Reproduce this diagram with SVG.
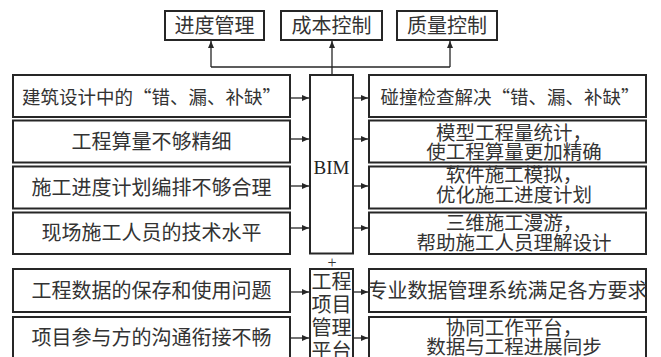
<svg xmlns="http://www.w3.org/2000/svg" width="661" height="357" viewBox="0 0 661 357">
<style>
.box{fill:#fff;stroke:#262626;stroke-width:2}
.t{font-family:"Noto Sans CJK SC","Noto Sans",sans-serif;font-size:20px;fill:#333;text-anchor:middle}
.s{font-size:18.5px}
.m{font-size:19.5px}
.en{font-family:"Liberation Serif",serif;font-size:19px;fill:#222;text-anchor:middle}
.c{stroke:#262626;stroke-width:1.3;fill:none}
</style>
<defs>
<marker id="ah" markerUnits="userSpaceOnUse" markerWidth="8" markerHeight="6" refX="7" refY="3" orient="auto">
<path d="M0,0 L7,3 L0,6 z" fill="#262626"/>
</marker>
</defs>
<rect width="661" height="357" fill="#fff"/>

<g id="top1"><rect class="box" x="165" y="11" width="99" height="29"/><text class="t" x="214.5" y="33">进度管理</text></g>
<g id="top2"><rect class="box" x="281" y="11" width="101" height="29"/><text class="t" x="331.5" y="33">成本控制</text></g>
<g id="top3"><rect class="box" x="397" y="11" width="100" height="29"/><text class="t" x="447" y="33">质量控制</text></g>

<g id="L1"><rect class="box" x="13" y="75" width="277" height="42"/><text class="t s" x="151.5" y="104">建筑设计中的“错、漏、补缺”</text></g>
<g id="L2"><rect class="box" x="13" y="120.5" width="277" height="42"/><text class="t" x="151.5" y="148.5">工程算量不够精细</text></g>
<g id="L3"><rect class="box" x="13" y="166.5" width="277" height="42"/><text class="t" x="151.5" y="194.5">施工进度计划编排不够合理</text></g>
<g id="L4"><rect class="box" x="13" y="212.5" width="277" height="41.5"/><text class="t" x="151.5" y="240">现场施工人员的技术水平</text></g>
<g id="L5"><rect class="box" x="13" y="269" width="277" height="43"/><text class="t" x="151.5" y="297.5">工程数据的保存和使用问题</text></g>
<g id="L6"><rect class="box" x="13" y="317" width="277" height="50"/><text class="t" x="151.5" y="345">项目参与方的沟通衔接不畅</text></g>

<g id="BIM"><rect class="box" x="310" y="75" width="43" height="178.5"/><text class="en" x="331.5" y="174">BIM</text></g>
<text x="332" y="268" font-family="Liberation Serif, serif" font-size="16" fill="#333" text-anchor="middle">+</text>
<g id="platform"><rect class="box" x="310" y="269" width="43" height="98"/>
<text class="t" x="331.5" y="289">工程</text>
<text class="t" x="331.5" y="312">项目</text>
<text class="t" x="331.5" y="335">管理</text>
<text class="t" x="331.5" y="358">平台</text></g>

<g id="R1"><rect class="box" x="369" y="75" width="277" height="42"/><text class="t s" x="510" y="104">碰撞检查解决“错、漏、补缺”</text></g>
<g id="R2"><rect class="box" x="369" y="120.5" width="277" height="42"/><text class="t m" x="514" y="140">模型工程量统计，</text><text class="t m" x="514" y="159">使工程算量更加精确</text></g>
<g id="R3"><rect class="box" x="369" y="166.5" width="277" height="42"/><text class="t m" x="514" y="182">软件施工模拟，</text><text class="t m" x="514" y="202">优化施工进度计划</text></g>
<g id="R4"><rect class="box" x="369" y="212.5" width="277" height="41.5"/><text class="t m" x="514" y="230">三维施工漫游，</text><text class="t m" x="514" y="250">帮助施工人员理解设计</text></g>
<g id="R5"><rect class="box" x="369" y="269" width="277" height="43"/><text class="t" x="507.5" y="297.5">专业数据管理系统满足各方要求</text></g>
<g id="R6"><rect class="box" x="369" y="317" width="277" height="50"/><text class="t m" x="514" y="335">协同工作平台，</text><text class="t m" x="514" y="354">数据与工程进展同步</text></g>

<g id="connectors">
<line class="c" x1="332" y1="75" x2="332" y2="41" marker-end="url(#ah)"/>
<line class="c" x1="211" y1="67" x2="450" y2="67"/>
<line class="c" x1="211" y1="67" x2="211" y2="41" marker-end="url(#ah)"/>
<line class="c" x1="450" y1="67" x2="450" y2="41" marker-end="url(#ah)"/>
<line class="c" x1="291" y1="98" x2="309" y2="98" marker-end="url(#ah)"/>
<line class="c" x1="291" y1="139" x2="309" y2="139" marker-end="url(#ah)"/>
<line class="c" x1="291" y1="186" x2="309" y2="186" marker-end="url(#ah)"/>
<line class="c" x1="291" y1="228" x2="309" y2="228" marker-end="url(#ah)"/>
<line class="c" x1="291" y1="292" x2="309" y2="292" marker-end="url(#ah)"/>
<line class="c" x1="291" y1="338" x2="309" y2="338" marker-end="url(#ah)"/>
<line class="c" x1="354" y1="98" x2="368" y2="98" marker-end="url(#ah)"/>
<line class="c" x1="354" y1="139" x2="368" y2="139" marker-end="url(#ah)"/>
<line class="c" x1="354" y1="186" x2="368" y2="186" marker-end="url(#ah)"/>
<line class="c" x1="354" y1="228" x2="368" y2="228" marker-end="url(#ah)"/>
<line class="c" x1="354" y1="292" x2="368" y2="292" marker-end="url(#ah)"/>
<line class="c" x1="354" y1="338" x2="368" y2="338" marker-end="url(#ah)"/>
</g>
</svg>
